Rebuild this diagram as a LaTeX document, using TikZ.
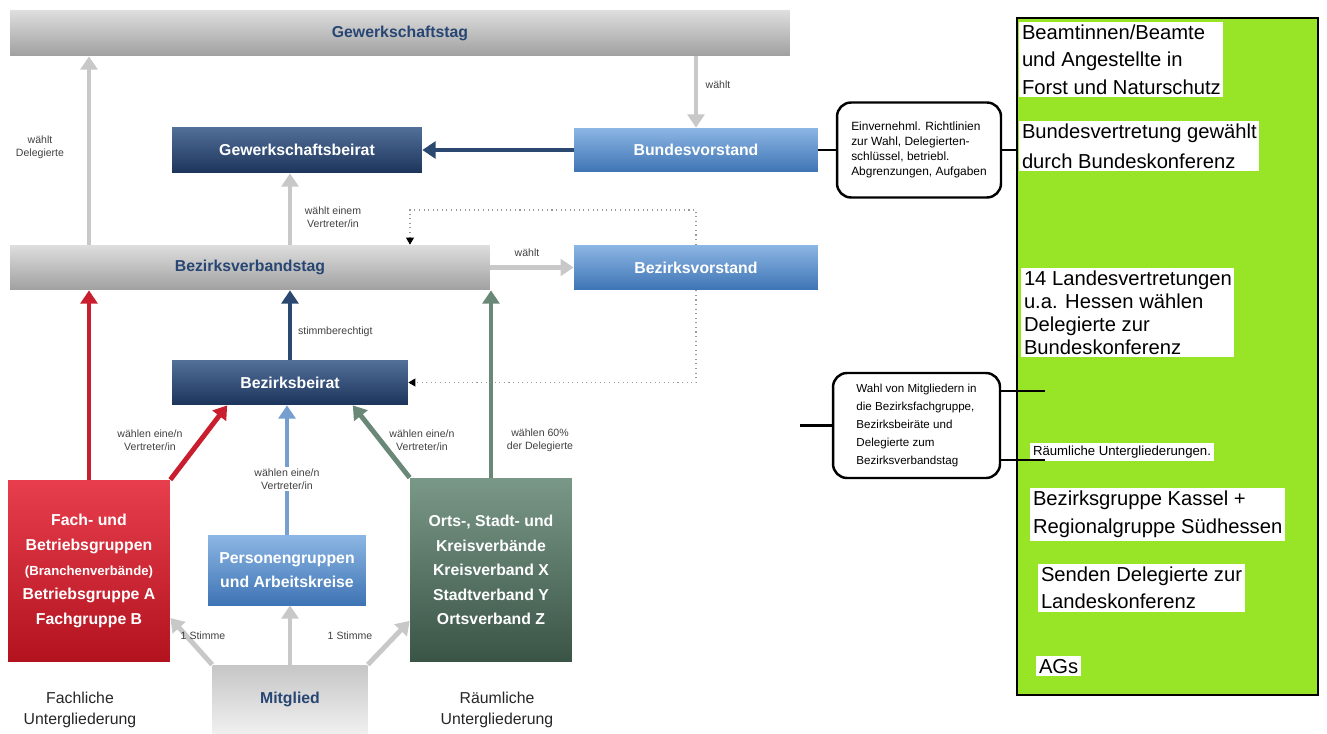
\documentclass[tikz,border=0pt]{standalone}
\usepackage{fontspec}
\setmainfont{Liberation Sans}
\usetikzlibrary{arrows.meta}

\definecolor{barlight}{RGB}{222,222,222}
\definecolor{bardark}{RGB}{160,160,160}
\definecolor{titleblue}{RGB}{40,70,115}
\definecolor{navytop}{RGB}{82,112,152}
\definecolor{navybot}{RGB}{28,52,92}
\definecolor{bluetop}{RGB}{140,182,228}
\definecolor{bluebot}{RGB}{62,116,180}
\definecolor{redtop}{RGB}{232,62,78}
\definecolor{redbot}{RGB}{178,18,30}
\definecolor{greentop}{RGB}{122,152,136}
\definecolor{greenbot}{RGB}{58,84,70}
\definecolor{greyarr}{RGB}{200,200,200}
\definecolor{redarr}{RGB}{200,30,45}
\definecolor{navyarr}{RGB}{42,72,112}
\definecolor{lightarr}{RGB}{118,158,206}
\definecolor{greenarr}{RGB}{106,136,120}
\definecolor{lkgreen}{RGB}{152,229,40}

\begin{document}
\begin{tikzpicture}[x=0.02cm, y=-0.02cm,
    boxfont/.style={font=\bfseries\fontsize{9}{14}\selectfont, align=center, inner sep=0pt},
    greybar/.style={boxfont, top color=barlight, bottom color=bardark, text=titleblue},
    memberbox/.style={boxfont, top color=gray!45, bottom color=gray!12, text=titleblue},
    navybox/.style={boxfont, top color=navytop, bottom color=navybot, text=white},
    bluebox/.style={boxfont, top color=bluetop, bottom color=bluebot, text=white},
    redbox/.style={boxfont, top color=redtop, bottom color=redbot, text=white},
    greenbox/.style={boxfont, top color=greentop, bottom color=greenbot, text=white},
    caption/.style={font=\fontsize{9}{12}\selectfont, align=center, text=black!85},
    lbl/.style={font=\fontsize{6}{7.5}\selectfont, align=center, text=black!75, inner sep=1pt},
    bigarrow/.style={line width=2.8pt, -{Triangle[width=9.5pt,length=7.5pt]}},
    dotline/.style={dotted, gray!80, line width=0.6pt, -{Triangle[width=4.5pt,length=4pt,black]}},
    blackline/.style={line width=1.6pt},
    notebox/.style={draw, line width=1.4pt, rounded corners=8pt, fill=white, align=left, inner sep=3pt},
    lktext/.style={fill=white, inner sep=1.5pt, align=left, anchor=north west}]

  \useasboundingbox (0,0) rectangle (1327,733);

  % Bundesebene
  \node[greybar, minimum width=15.6cm, minimum height=0.92cm] (tag) at (400,33) {Gewerkschaftstag};
  \node[navybox, minimum width=5cm, minimum height=0.92cm] (gbeirat) at (297,150) {Gewerkschaftsbeirat};
  \node[bluebox, minimum width=4.88cm, minimum height=0.88cm] (bvorst) at (696,150) {Bundesvorstand};

  % Bezirksebene
  \node[greybar, minimum width=9.6cm, minimum height=0.9cm] (bvtag) at (250,267.5) {Bezirksverbandstag};
  \node[bluebox, minimum width=4.88cm, minimum height=0.9cm] (bezvorst) at (696,267.5) {Bezirksvorstand};
  \node[navybox, minimum width=4.72cm, minimum height=0.9cm] (bbeirat) at (290,382.5) {Bezirksbeirat};

  % Untergliederungen
  \node[redbox, minimum width=3.24cm, minimum height=3.64cm] (fach) at (89,571)
    {Fach- und\\Betriebsgruppen\\{\fontsize{7.5}{14}\selectfont(Branchenverbände)}\\Betriebsgruppe A\\Fachgruppe B};
  \node[bluebox, minimum width=3.16cm, minimum height=1.4cm] (pers) at (287,570) {Personengruppen\\und Arbeitskreise};
  \node[greenbox, minimum width=3.24cm, minimum height=3.68cm] (orts) at (491,570)
    {Orts-, Stadt- und\\Kreisverbände\\Kreisverband X\\Stadtverband Y\\Ortsverband Z};
  \node[memberbox, minimum width=3.1cm, minimum height=1.36cm] (mitglied) at (290,699) {Mitglied};

  \node[caption] (fachcap) at (80,710) {Fachliche\\Untergliederung};
  \node[caption] (raumcap) at (497,710) {Räumliche\\Untergliederung};

  % Pfeile
  \draw[bigarrow, greyarr] (fach.north |- bvtag.north) -- (fach.north |- tag.south);
  \node[lbl] (l1) at (40,147) {wählt\\Delegierte};
  \draw[bigarrow, greyarr] (bvorst.north |- tag.south) -- (bvorst.north);
  \node[lbl] (l2) at (718,85) {wählt};
  \draw[bigarrow, navyarr] (bvorst.west) -- (gbeirat.east);
  \draw[bigarrow, greyarr] (bbeirat.north |- bvtag.north) -- (bbeirat.north |- gbeirat.south);
  \node[lbl] (l3) at (333,217) {wählt einem\\Vertreter/in};
  \draw[bigarrow, greyarr] (bvtag.east) -- (bezvorst.west);
  \node[lbl] (l4) at (527,253) {wählt};
  \draw[bigarrow, navyarr] (bbeirat.north) -- (bbeirat.north |- bvtag.south);
  \node[lbl, anchor=west] (l5) at (296,332) {stimmberechtigt};

  \draw[bigarrow, redarr] (fach.north) -- (fach.north |- bvtag.south);
  \draw[bigarrow, redarr] (fach.north east) -- (bbeirat.200);
  \node[lbl] (l6) at (150,440) {wählen eine/n\\Vertreter/in};
  \draw[bigarrow, lightarr] (pers.north) -- (pers.north |- bbeirat.south);
  \node[lbl, fill=white] (l7) at (287,479) {wählen eine/n\\Vertreter/in};
  \draw[bigarrow, greenarr] (orts.north west) -- (bbeirat.340);
  \node[lbl] (l8) at (422,440) {wählen eine/n\\Vertreter/in};
  \draw[bigarrow, greenarr] (orts.north) -- (orts.north |- bvtag.south);
  \node[lbl] (l9) at (540,440) {wählen 60\%\\der Delegierte};

  \draw[bigarrow, greyarr] (mitglied.north west) -- (fach.330);
  \draw[bigarrow, greyarr] (mitglied.north) -- (mitglied.north |- pers.south);
  \draw[bigarrow, greyarr] (mitglied.north east) -- (orts.212);
  \node[lbl] (l10) at (203,636) {1 Stimme};
  \node[lbl] (l11) at (350,636) {1 Stimme};

  % gepunktete Rueckkopplung
  \coordinate (dotcorner) at (410,210);
  \draw[dotline] (bezvorst.north) |- (dotcorner) -- (dotcorner |- bvtag.north);
  \draw[dotline] (bezvorst.south) |- (bbeirat.east);

  % rechte Seite
  \node[draw, line width=1.6pt, fill=lkgreen, minimum width=6.02cm, minimum height=13.54cm] (lk) at (1167.5,356.5) {};
  \node[lktext, font=\fontsize{11.5}{15.5}\selectfont] (beamte) at (1019,22)
    {Beamtinnen/Beamte\\und Angestellte in\\Forst und Naturschutz};
  \node[lktext, font=\fontsize{11.5}{17}\selectfont] (bundesvt) at (1019,121)
    {Bundesvertretung gewählt\\durch Bundeskonferenz};
  \node[lktext, font=\fontsize{11.5}{13}\selectfont] (landesvt) at (1021,268)
    {14 Landesvertretungen\\u.a. Hessen wählen\\Delegierte zur\\Bundeskonferenz};
  \node[lktext, font=\fontsize{7.5}{9}\selectfont] (raumtext) at (1030,443) {Räumliche Untergliederungen.};
  \node[lktext, font=\fontsize{11.5}{16}\selectfont] (kassel) at (1030,488)
    {Bezirksgruppe Kassel +\\Regionalgruppe Südhessen};
  \node[lktext, font=\fontsize{11.5}{15.5}\selectfont] (senden) at (1038,564)
    {Senden Delegierte zur\\Landeskonferenz};
  \node[lktext, font=\fontsize{11.5}{14}\selectfont] (ags) at (1036,656) {AGs};

  \node[notebox, font=\fontsize{6.8}{8.5}\selectfont, minimum width=3.28cm, minimum height=1.9cm] (note1) at (919,150)
    {Einvernehml. Richtlinien\\zur Wahl, Delegierten-\\schlüssel, betriebl.\\Abgrenzungen, Aufgaben};
  \node[notebox, font=\fontsize{6.6}{10.3}\selectfont, minimum width=3.34cm, minimum height=2.1cm] (note2) at (916.5,425.5)
    {Wahl von Mitgliedern in\\die Bezirksfachgruppe,\\Bezirksbeiräte und\\Delegierte zum\\Bezirksverbandstag};

  \draw[blackline] (bvorst.east) -- (note1.west);
  \draw[blackline] (note1.east) -- (note1.east -| lk.west);
  \coordinate (leftend) at (800,425.5);
  \coordinate (rtop) at (1045,391);
  \coordinate (rbot) at (1045,460);
  \draw[blackline] (leftend) -- (note2.west);
  \draw[blackline] (note2.east |- rtop) -- (rtop);
  \draw[blackline] (note2.east |- rbot) -- (rbot);
\end{tikzpicture}
\end{document}
